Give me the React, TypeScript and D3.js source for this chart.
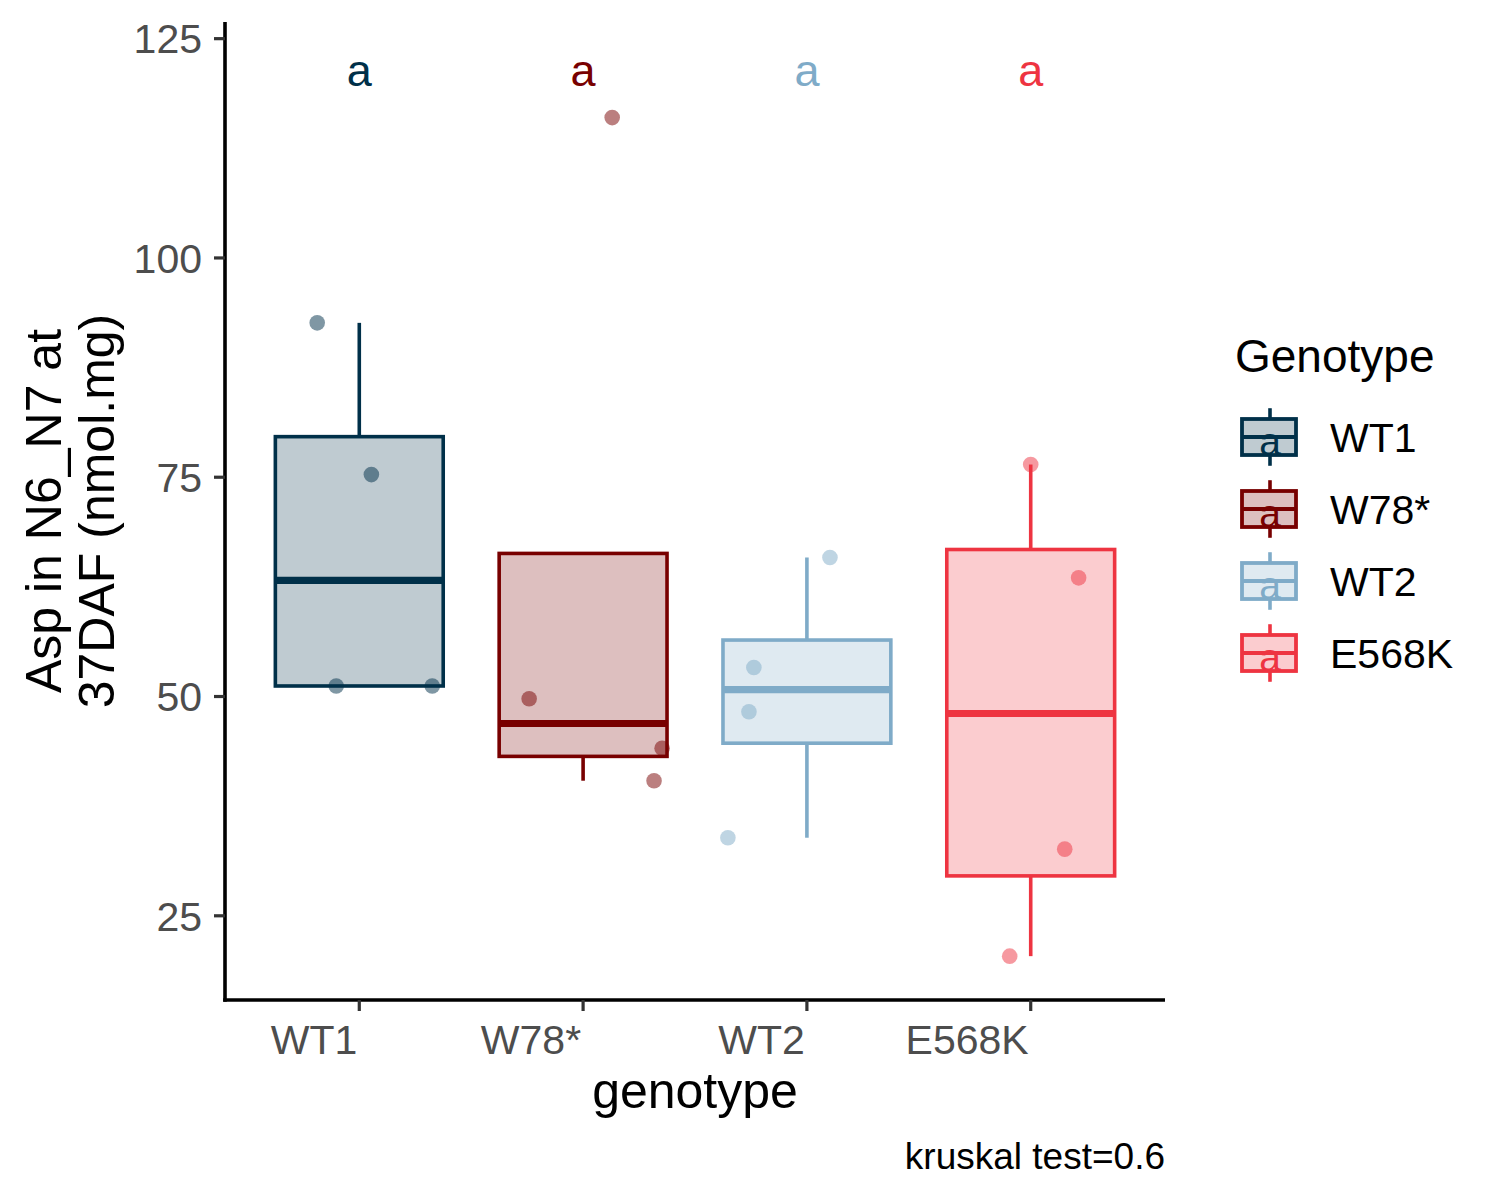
import React from 'react';
import * as d3 from 'd3';

const genotypes = ['WT1', 'W78*', 'WT2', 'E568K'];
const colors = ['#003049', '#780000', '#7FABC8', '#EE3441'];

const wt1Values = [92.6, 75.3, 51.2, 51.2];
const w78Values = [116.0, 49.75, 44.1, 40.4];
const wt2Values = [65.85, 53.3, 48.27, 33.9];
const e568kValues = [76.45, 63.53, 32.6, 20.4];

// horizontal jitter of each point, in category units
const wt1Jitter = [-0.188, 0.054, -0.103, 0.326];
const w78Jitter = [0.13, -0.241, 0.353, 0.317];
const wt2Jitter = [0.103, -0.237, -0.259, -0.353];
const e568kJitter = [0.0, 0.214, 0.152, -0.094];

const groupLetters = ['a', 'a', 'a', 'a'];
const letterY = 121.4;
const yTicks = [25, 50, 75, 100, 125];
const xTitle = 'genotype';
const yTitleLines = ['Asp in N6_N7 at', '37DAF (nmol.mg)'];
const legendTitle = 'Genotype';
const caption = 'kruskal test=0.6';

const allValues = [wt1Values, w78Values, wt2Values, e568kValues];
const allJitter = [wt1Jitter, w78Jitter, wt2Jitter, e568kJitter];

const FONT = '"Liberation Sans", Arial, sans-serif';

function boxStats(vals: number[]) {
  const s = [...vals].sort((a, b) => a - b);
  const q1 = d3.quantile(s, 0.25)!;
  const med = d3.quantile(s, 0.5)!;
  const q3 = d3.quantile(s, 0.75)!;
  const iqr = q3 - q1;
  const inside = s.filter((v) => v >= q1 - 1.5 * iqr && v <= q3 + 1.5 * iqr);
  const lo = Math.min(q1, ...inside);
  const hi = Math.max(q3, ...inside);
  return { q1, med, q3, lo, hi };
}

export default function App() {
  const W = 1500;
  const H = 1200;
  const left = 225;
  const right = 1165;
  const top = 22;
  const bottom = 1000;

  const x = d3.scalePoint<string>().domain(genotypes).range([left, right]).padding(0.6);
  const step = x.step();
  const y = d3.scaleLinear().domain([15.4, 126.9]).range([bottom, top]);
  const boxW = step * 0.75;

  const tickFont = 41;
  const titleFont = 50;
  const lw = 3.6;

  const legendX = 1233;
  const keySize = 72;
  const keyTop0 = 401;

  return (
    <svg
      width={W}
      height={H}
      style={{ position: 'absolute', left: 0, top: 0, background: '#fff' }}
      fontFamily={FONT}
    >
      <rect x={0} y={0} width={W} height={H} fill="#fff" />

      {/* boxes */}
      {genotypes.map((g, i) => {
        const st = boxStats(allValues[i]);
        const cx = x(g)!;
        const c = colors[i];
        return (
          <g key={g}>
            <line x1={cx} x2={cx} y1={y(st.q3)} y2={y(st.hi)} stroke={c} strokeWidth={lw} />
            <line x1={cx} x2={cx} y1={y(st.q1)} y2={y(st.lo)} stroke={c} strokeWidth={lw} />
            <rect
              x={cx - boxW / 2}
              y={y(st.q3)}
              width={boxW}
              height={y(st.q1) - y(st.q3)}
              fill={c}
              fillOpacity={0.25}
              stroke={c}
              strokeWidth={lw}
            />
            <line
              x1={cx - boxW / 2}
              x2={cx + boxW / 2}
              y1={y(st.med)}
              y2={y(st.med)}
              stroke={c}
              strokeWidth={lw * 2}
            />
          </g>
        );
      })}

      {/* jittered points */}
      {genotypes.map((g, i) =>
        allValues[i].map((v, j) => (
          <circle
            key={g + j}
            cx={x(g)! + allJitter[i][j] * step}
            cy={y(v)}
            r={7.8}
            fill={colors[i]}
            fillOpacity={0.5}
          />
        ))
      )}

      {/* group letters */}
      {genotypes.map((g, i) => (
        <text
          key={'l' + g}
          x={x(g)!}
          y={y(letterY)}
          dy="0.36em"
          textAnchor="middle"
          fontSize={45}
          fill={colors[i]}
        >
          {groupLetters[i]}
        </text>
      ))}

      {/* axes */}
      <line x1={left} x2={left} y1={top} y2={bottom + 1.8} stroke="#000" strokeWidth={3.6} />
      <line x1={left - 1.8} x2={right} y1={bottom} y2={bottom} stroke="#000" strokeWidth={3.6} />

      {yTicks.map((t) => (
        <g key={'yt' + t}>
          <line x1={left - 11} x2={left} y1={y(t)} y2={y(t)} stroke="#333" strokeWidth={3.2} />
          <text
            x={left - 23}
            y={y(t)}
            dy="0.36em"
            textAnchor="end"
            fontSize={tickFont}
            fill="#4D4D4D"
          >
            {t}
          </text>
        </g>
      ))}

      {genotypes.map((g) => (
        <g key={'xt' + g}>
          <line x1={x(g)!} x2={x(g)!} y1={bottom} y2={bottom + 11} stroke="#333" strokeWidth={3.2} />
          <text x={x(g)! - 2} y={1054} textAnchor="end" fontSize={tickFont} fill="#4D4D4D">
            {g}
          </text>
        </g>
      ))}

      {/* axis titles */}
      <text x={(left + right) / 2} y={1108} textAnchor="middle" fontSize={titleFont} fill="#000">
        {xTitle}
      </text>
      {yTitleLines.map((line, k) => (
        <text
          key={'ytl' + k}
          transform={`translate(${61 + k * 53},${(top + bottom) / 2}) rotate(-90)`}
          textAnchor="middle"
          fontSize={titleFont}
          fill="#000"
        >
          {line}
        </text>
      ))}

      {/* caption */}
      <text x={right} y={1169} textAnchor="end" fontSize={37} fill="#000">
        {caption}
      </text>

      {/* legend */}
      <text x={1235} y={372} fontSize={46} fill="#000">
        {legendTitle}
      </text>
      {genotypes.map((g, i) => {
        const ky = keyTop0 + i * keySize;
        const kcx = legendX + keySize / 2 + 1;
        const c = colors[i];
        const bx0 = legendX + keySize * 0.125;
        const bw = keySize * 0.75;
        return (
          <g key={'lg' + g}>
            <line x1={kcx} x2={kcx} y1={ky + keySize * 0.1} y2={ky + keySize * 0.25} stroke={c} strokeWidth={lw} />
            <line x1={kcx} x2={kcx} y1={ky + keySize * 0.75} y2={ky + keySize * 0.9} stroke={c} strokeWidth={lw} />
            <rect
              x={bx0}
              y={ky + keySize * 0.25}
              width={bw}
              height={keySize * 0.5}
              fill={c}
              fillOpacity={0.25}
              stroke={c}
              strokeWidth={3.8}
            />
            <line x1={bx0} x2={bx0 + bw} y1={ky + keySize / 2} y2={ky + keySize / 2} stroke={c} strokeWidth={3.8} />
            <text
              x={kcx}
              y={ky + keySize / 2}
              dy="0.45em"
              textAnchor="middle"
              fontSize={39}
              fill={c}
            >
              {groupLetters[i]}
            </text>
            <text x={1330} y={ky + keySize / 2} dy="0.36em" fontSize={tickFont} fill="#000">
              {g}
            </text>
          </g>
        );
      })}
    </svg>
  );
}
